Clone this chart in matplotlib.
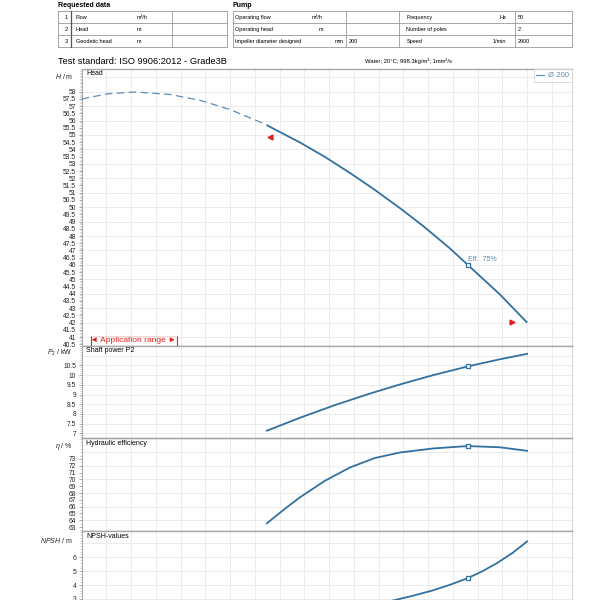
import matplotlib
matplotlib.use('Agg')
import matplotlib.pyplot as plt
from matplotlib.ticker import MultipleLocator, FixedLocator
from matplotlib.lines import Line2D
import numpy as np

plt.rcParams['font.family'] = ['Liberation Sans', 'DejaVu Sans']
plt.rcParams['mathtext.fontset'] = 'custom'
plt.rcParams['mathtext.it'] = 'Liberation Sans:italic'
plt.rcParams['mathtext.rm'] = 'Liberation Sans'

# ---------------- data ----------------
# head curve outside application range (dashed)
head_q_ext = [0.0, 5.0, 10.8, 17.8, 23.9, 30.0, 36.0, 37.4]
head_h_ext = [57.49, 57.84, 57.98, 57.81, 57.40, 56.76, 55.90, 55.68]
# head curve inside application range (solid)
head_q = [37.4, 44.1, 49.0, 54.2, 59.0, 64.3, 69.0, 74.4, 78.0, 84.5, 90.0]
head_h = [55.68, 54.48, 53.51, 52.37, 51.25, 49.93, 48.69, 47.14, 46.0, 43.95, 42.0]

power_q = [37.4, 44.1, 51.0, 58.0, 64.3, 71.0, 78.0, 84.5, 90.0]
power_p = [7.13, 7.80, 8.44, 9.03, 9.52, 10.0, 10.45, 10.82, 11.1]

eff_q = [37.4, 41.0, 44.1, 49.15, 54.2, 59.25, 64.3, 71.0, 78.0, 84.5, 90.0]
eff_v = [63.54, 65.65, 67.37, 69.8, 71.75, 73.15, 73.95, 74.55, 74.9, 74.72, 74.2]

npsh_q = [55.0, 62.3, 66.6, 70.9, 74.5, 78.0, 81.0, 84.0, 87.0, 90.0]
npsh_v = [2.37, 2.84, 3.2, 3.61, 4.03, 4.5, 5.0, 5.6, 6.3, 7.14]

op_q = 78.0
op_h = 46.0
op_p = 10.45
op_eff = 74.9
op_npsh = 4.5
op_label = "Eff.  75%"

app_q = [38.0, 87.0]
app_h = [54.84, 42.03]

head_ticks = list(np.arange(40.5, 58.01, 0.5))
power_ticks = list(np.arange(7.0, 10.51, 0.5))
eff_ticks = list(range(63, 74))
npsh_ticks = [1, 2, 3, 4, 5, 6]

req_rows = [("1", "Flow", "m³/h"), ("2", "Head", "m"), ("3", "Geodetic head", "m")]
pump_rows = [("Operating flow", "m³/h", "", "Frequency", "Hz", "50"),
             ("Operating head", "m", "", "Number of poles", "", "2"),
             ("Impeller diameter designed", "mm", "200", "Speed", "1/min", "2900")]

# ---------------- style ----------------
C_LINE = '#31709f'
C_DASH = '#5b8cb8'
C_TXT = '#5a88b2'
C_RED = '#e0201c'
C_GRID = '#e9e9e9'
C_SPINE = '#a8a8a8'

W = H = 600
fig = plt.figure(figsize=(6, 6), dpi=100)
fig.patch.set_facecolor('white')

bg = fig.add_axes([0, 0, 1, 1])
bg.set_xlim(0, W)
bg.set_ylim(H, 0)
bg.axis('off')
bg.set_zorder(-5)


def rect(x0, y0, x1, y1):
    return [x0 / W, 1 - y1 / H, (x1 - x0) / W, (y1 - y0) / H]


def hline(x0, x1, y, color='#999999', lw=0.6):
    bg.plot([x0, x1], [y, y], color=color, lw=lw)


def vline(x, y0, y1, color='#999999', lw=0.6):
    bg.plot([x, x], [y0, y1], color=color, lw=lw)


# ---------------- header tables ----------------
TF = 4.0
bg.text(57.7, 5.2, "Requested data", fontsize=5, fontweight='bold', va='center', ha='left')
bg.text(232.7, 5.2, "Pump", fontsize=5, fontweight='bold', va='center', ha='left')

ty = [11.3, 23.3, 35.3, 47.3]
for y in ty:
    hline(57.7, 227, y)
for x in [57.7, 172, 227]:
    vline(x, ty[0], ty[-1])
vline(71, ty[0], ty[-1], color='#555555', lw=0.9)
for i, (n, name, unit) in enumerate(req_rows):
    yc = (ty[i] + ty[i + 1]) / 2
    bg.text(68, yc, n, fontsize=TF, ha='right', va='center')
    bg.text(75.8, yc, name, fontsize=TF, ha='left', va='center')
    bg.text(137, yc, unit, fontsize=TF, ha='left', va='center')
for y in ty:
    hline(232.7, 572, y)
for x in [232.7, 346, 399, 515.4, 572]:
    vline(x, ty[0], ty[-1])
for i, (n1, u1, v1, n2, u2, v2) in enumerate(pump_rows):
    yc = (ty[i] + ty[i + 1]) / 2
    bg.text(234.6, yc, n1, fontsize=TF, ha='left', va='center')
    bg.text(323 if i < 2 else 344, yc, u1, fontsize=TF, ha='right', va='center')
    bg.text(349, yc, v1, fontsize=TF, ha='left', va='center')
    bg.text(406.5, yc, n2, fontsize=TF, ha='left', va='center')
    bg.text(506, yc, u2, fontsize=TF, ha='right', va='center')
    bg.text(518, yc, v2, fontsize=TF, ha='left', va='center')

bg.text(58.5, 61, "Test standard: ISO 9906:2012 - Grade3B", fontsize=6.7, ha='left', va='center')
bg.text(365, 61, "Water; 20°C; 998.3kg/m³; 1mm²/s", fontsize=4.2, ha='left', va='center')

# ---------------- panels ----------------
X0, X1 = 81.7, 571.7
ax_h = fig.add_axes(rect(X0, 69.3, X1, 345.7))
ax_p = fig.add_axes(rect(X0, 345.7, X1, 438.3))
ax_e = fig.add_axes(rect(X0, 438.3, X1, 530.7))
ax_n = fig.add_axes(rect(X0, 530.7, X1, 623.0))

panels = [
    (ax_h, (40.40, 59.55), head_ticks, 0.1, 1.0),
    (ax_p, (6.74, 11.52), power_ticks, 0.1, 0.5),
    (ax_e, (62.46, 76.04), eff_ticks, 0.5, 2.0),
    (ax_n, (1.27, 7.91), npsh_ticks, 0.2, 1.0),
]
for ax, yl, ticks, minor, gstep in panels:
    ax.set_facecolor('white')
    ax.set_xlim(0, 99)
    ax.set_ylim(*yl)
    ax.yaxis.set_major_locator(FixedLocator(ticks))
    ax.set_yticklabels(["%g" % t for t in ticks])
    ax.yaxis.set_minor_locator(MultipleLocator(minor))
    ax.tick_params(axis='y', which='major', labelsize=4.8, length=2.5, width=0.5,
                   color='#888888', pad=1.5, labelcolor='#222222')
    ax.tick_params(axis='y', which='minor', length=1.5, width=0.4, color='#aaaaaa')
    ax.tick_params(axis='x', which='both', bottom=False, labelbottom=False)
    for gx in np.arange(5, 99, 5):
        ax.axvline(gx, color=C_GRID, lw=0.6, zorder=0)
    g0 = np.ceil(yl[0] / gstep) * gstep
    for gy in np.arange(g0, yl[1], gstep):
        ax.axhline(gy, color=C_GRID, lw=0.6, zorder=0)
    for s in ['top', 'bottom']:
        ax.spines[s].set_color(C_SPINE)
        ax.spines[s].set_linewidth(1.0)
    ax.spines['left'].set_color('#999999')
    ax.spines['left'].set_linewidth(0.6)
    ax.spines['right'].set_color('#cfcfcf')
    ax.spines['right'].set_linewidth(0.6)

# head
ax_h.plot(head_q_ext, head_h_ext, color=C_DASH, lw=0.9, dashes=(6, 3.5), zorder=3)
ax_h.plot(head_q, head_h, color=C_LINE, lw=1.3, zorder=4, solid_capstyle='butt',
          solid_joinstyle='round')
ax_h.plot([op_q], [op_h], marker='s', ms=3.2, mfc='white', mec=C_LINE, mew=0.9, zorder=5)
ax_h.annotate(op_label, (op_q, op_h), xytext=(0.3, 3.6), textcoords='offset points',
              fontsize=5, color=C_TXT, ha='left', va='center')
ax_h.plot([app_q[0]], [app_h[0]], marker='<', ms=3.5, color=C_RED, mec=C_RED, ls='none', zorder=5)
ax_h.plot([app_q[1]], [app_h[1]], marker='>', ms=3.5, color=C_RED, mec=C_RED, ls='none', zorder=5)

leg = ax_h.legend(handles=[Line2D([], [], color=C_DASH, lw=0.8)], labels=['Ø 200'],
                  loc='upper right', fontsize=5.6, frameon=True, fancybox=False,
                  borderaxespad=0.0, handlelength=1.0, handletextpad=0.5, borderpad=0.35)
leg.get_frame().set_edgecolor('#cccccc')
leg.get_frame().set_linewidth(0.6)
for t in leg.get_texts():
    t.set_color(C_TXT)

# application range label
ax_h.text(133.4, 340.3, "◄ Application range ►", transform=bg.transData, fontsize=6.0,
          color=C_RED, ha='center', va='center', zorder=6, clip_on=False)
for xx in [90.5, 176.5]:
    ax_h.plot([xx, xx], [335.5, 345.5], transform=bg.transData, color=C_RED, lw=0.8,
              clip_on=False, zorder=6)
ax_h.plot([90.5, 176.5], [335.5, 335.5], transform=bg.transData, color='#f3c4c4', lw=0.5,
          clip_on=False, zorder=6)

# other curves
for ax, q, v, ov in [(ax_p, power_q, power_p, op_p), (ax_e, eff_q, eff_v, op_eff),
                     (ax_n, npsh_q, npsh_v, op_npsh)]:
    ax.plot(q, v, color=C_LINE, lw=1.3, zorder=4, solid_joinstyle='round')
    ax.plot([op_q], [ov], marker='s', ms=3.2, mfc='white', mec=C_LINE, mew=0.9, zorder=5)

# panel titles and y labels
TT = 5.0
for ax, lbl, y in [(ax_h, "Head", 73.3), (ax_p, "Shaft power P2", 350),
                   (ax_e, "Hydraulic efficiency", 443.3), (ax_n, "NPSH-values", 536)]:
    ax.text(86, y, lbl, transform=bg.transData, fontsize=TT, ha='left', va='center',
            clip_on=False, zorder=10)
for ax, lbl, y in [(ax_h, r"$H$ / m", 76.7), (ax_p, r"$P_2$ / kW", 353),
                   (ax_e, r"$\eta$ / %", 446), (ax_n, r"$NPSH$ / m", 540.7)]:
    ax.text(73, y, lbl, transform=bg.transData, fontsize=5.0, ha='right', va='center',
            clip_on=False, color='#222222')

fig.savefig('out.png', dpi=100)
